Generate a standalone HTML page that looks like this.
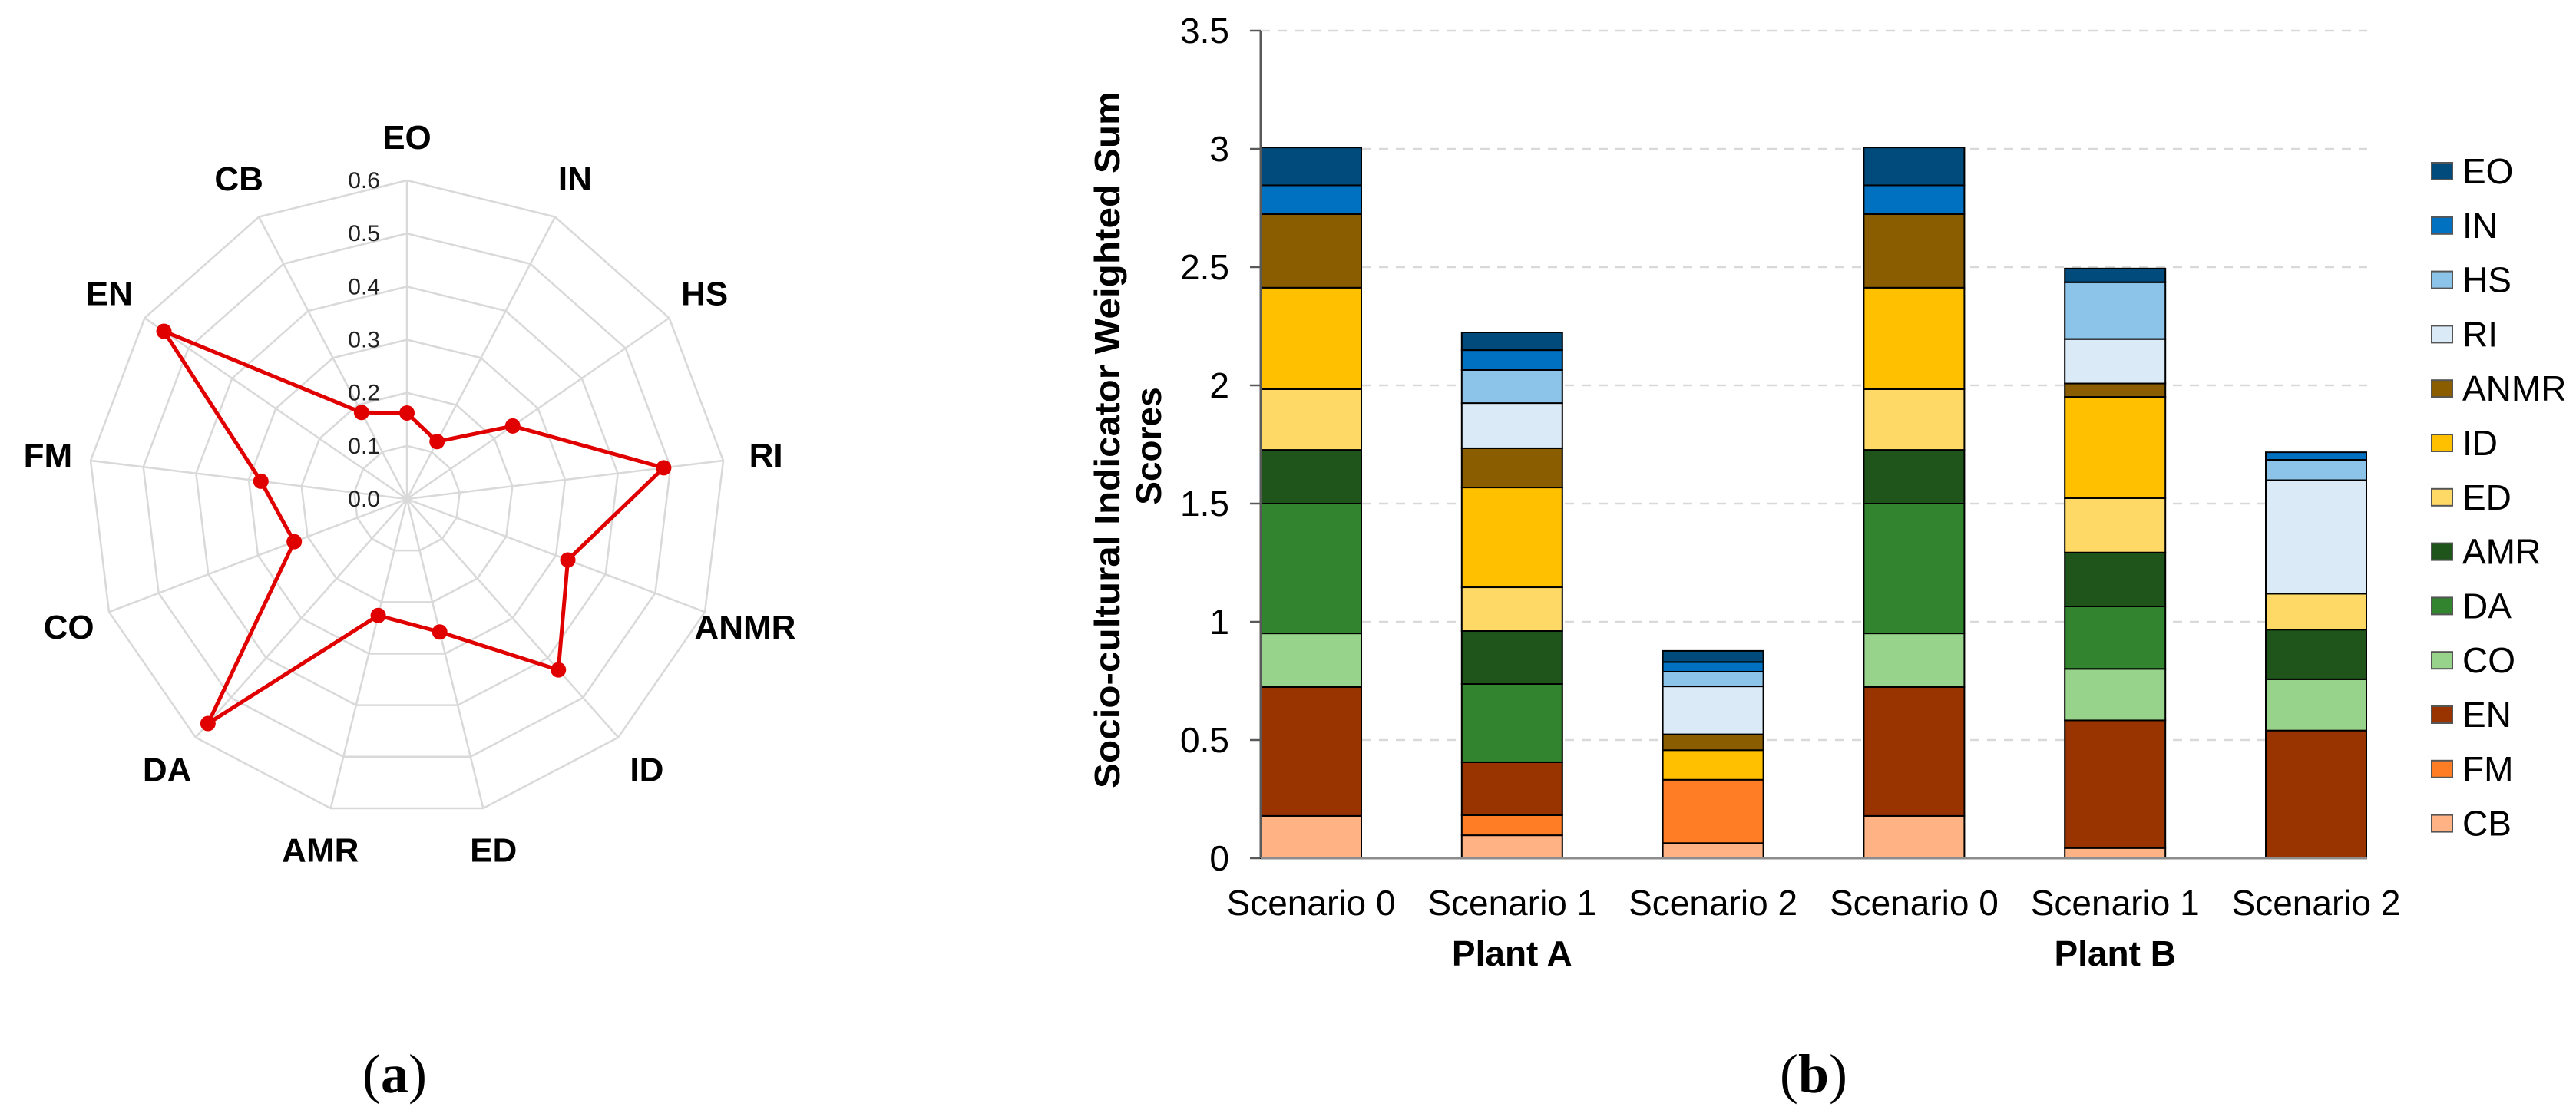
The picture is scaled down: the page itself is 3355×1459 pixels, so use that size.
<!DOCTYPE html>
<html><head><meta charset="utf-8"><style>
html,body{margin:0;padding:0;background:#fff;}
svg{display:block;font-family:"Liberation Sans",Arial,sans-serif;}
</style></head><body>
<svg id="fig" width="3355" height="1459" viewBox="0 0 3355 1459" xmlns="http://www.w3.org/2000/svg">
<rect width="3355" height="1459" fill="#fff"/>
<g id="radar"></g>
<text x="514" y="1423" font-family="'Liberation Serif',serif" font-size="72" text-anchor="middle">(<tspan font-weight="bold">a</tspan>)</text>
<g id="bars"></g>
<text x="2362" y="1423" font-family="'Liberation Serif',serif" font-size="72" text-anchor="middle">(<tspan font-weight="bold">b</tspan>)</text>
</svg>
<script>
// ---------- Radar data ----------
const radarAxes = ["EO","IN","HS","RI","ANMR","ID","ED","AMR","DA","CO","FM","EN","CB"];
const radarValues = [0.162,0.122,0.242,0.487,0.324,0.43,0.258,0.226,0.565,0.227,0.277,0.556,0.184];
const radarTicks = ["0.0","0.1","0.2","0.3","0.4","0.5","0.6"];

// ---------- Bar data ----------
const scenarios = ["Scenario 0","Scenario 1","Scenario 2","Scenario 0","Scenario 1","Scenario 2"];
const plants = ["Plant A","Plant B"];
const seriesNames = ["CB","FM","EN","CO","DA","AMR","ED","ID","ANMR","RI","HS","IN","EO"];
const CB   = [0.179,0.097,0.064,0.179,0.043,0];
const FM   = [0,0.085,0.268,0,0,0];
const EN   = [0.545,0.224,0,0.545,0.540,0.540];
const CO   = [0.227,0,0,0.227,0.218,0.217];
const DA   = [0.549,0.331,0,0.549,0.264,0];
const AMR  = [0.227,0.224,0,0.227,0.228,0.210];
const ED   = [0.257,0.185,0,0.257,0.230,0.152];
const ID   = [0.429,0.422,0.125,0.429,0.428,0];
const ANMR = [0.311,0.166,0.067,0.311,0.057,0];
const RI   = [0,0.191,0.203,0,0.188,0.480];
const HS   = [0,0.140,0.062,0,0.240,0.086];
const IN   = [0.122,0.084,0.041,0.122,0,0.032];
const EO   = [0.160,0.075,0.047,0.160,0.058,0];
const yTicks = [0,0.5,1,1.5,2,2.5,3,3.5];
const yTickLabels = ["0","0.5","1","1.5","2","2.5","3","3.5"];

const NS="http://www.w3.org/2000/svg";
function mk(tag,attrs,parent){const e=document.createElementNS(NS,tag);for(const k in attrs)e.setAttribute(k,attrs[k]);parent.appendChild(e);return e;}

// ---------- Radar ----------
(function(){
 const g=document.getElementById('radar');
 const cx=530,cy=650,R=415,maxV=0.6,n=radarAxes.length;
 const ang=i=>i*2*Math.PI/n;
 const pt=(i,v)=>[cx+Math.sin(ang(i))*v/maxV*R, cy-Math.cos(ang(i))*v/maxV*R];
 for(let k=1;k<radarTicks.length;k++){
   const v=parseFloat(radarTicks[k]);
   const pts=radarAxes.map((a,i)=>pt(i,v).join(',')).join(' ');
   const p=mk('polygon',{points:pts,fill:'none',stroke:'#d9d9d9','stroke-width':2.5},g);
   
   
 }
 radarAxes.forEach((a,i)=>{
   const e=pt(i,maxV);
   const l=mk('line',{x1:cx,y1:cy,x2:e[0],y2:e[1],stroke:'#d9d9d9','stroke-width':2.5},g);
   
   
   const lp=pt(i,maxV*1.135);
   const t=mk('text',{x:lp[0],y:lp[1]+15,'font-size':44,'font-weight':'bold','text-anchor':'middle',fill:'#000'},g);
   t.textContent=a;
   
   
 });
 radarTicks.forEach((s,k)=>{
   const v=parseFloat(s);
   const t=mk('text',{x:cx-35,y:cy-v/maxV*R+10,'font-size':30,'text-anchor':'end',fill:'#222'},g);
   t.textContent=s;
   
   
 });
 const pts=radarValues.map((v,i)=>pt(i,v).join(',')).join(' ');
 const poly=mk('polygon',{points:pts,fill:'none',stroke:'#e00000','stroke-width':5,'stroke-linejoin':'round'},g);
 
 
 radarValues.forEach((v,i)=>{
   const p=pt(i,v);
   const c=mk('circle',{cx:p[0],cy:p[1],r:10,fill:'#e00000'},g);
   
   
 });
})();

// ---------- Bars ----------
(function(){
 const g=document.getElementById('bars');
 const series={CB,FM,EN,CO,DA,AMR,ED,ID,ANMR,RI,HS,IN,EO};
 const colors={EO:'#004b7c',IN:'#0070c0',HS:'#8cc3e8',RI:'#dbeaf7',ANMR:'#8a5e00',ID:'#ffc000',ED:'#ffd966',AMR:'#1f541b',DA:'#32852e',CO:'#98d38c',EN:'#993300',FM:'#ff7d25',CB:'#ffb385'};
 const x0=1642,x1=3083,y0=1118,yMax=3.5,yTop=40;
 const Y=v=>y0-(v/yMax)*(y0-yTop);
 const step=261.8,bw=131;
 const X=i=>x0+i*step;
 yTicks.forEach((v,k)=>{
   if(v>0){const l=mk('line',{x1:x0,y1:Y(v),x2:x1,y2:Y(v),stroke:'#d9d9d9','stroke-width':2.5,'stroke-dasharray':'12 10'},g);
   
   }
   const tk=mk('line',{x1:x0-14,y1:Y(v),x2:x0,y2:Y(v),stroke:'#595959','stroke-width':2.5},g);
   
   
   const t=mk('text',{x:1601,y:Y(v)+16,'font-size':46,'text-anchor':'end',fill:'#000'},g);
   t.textContent=yTickLabels[k];
   
   
 });
 scenarios.forEach((s,i)=>{
   let acc=0;
   seriesNames.forEach(n=>{
     const v=series[n][i];
     if(v>0){
       const r=mk('rect',{x:X(i),y:Y(acc+v),width:bw,height:Y(acc)-Y(acc+v),fill:colors[n],stroke:'#000','stroke-width':2},g);
       
       
     }
     acc+=v;
   });
   const t=mk('text',{x:X(i)+bw/2,y:1192,'font-size':46,'text-anchor':'middle',fill:'#000'},g);
   t.textContent=s;
   
   
 });
 plants.forEach((p,j)=>{
   const cxp=(X(j*3)+X(j*3+2)+bw)/2;
   const t=mk('text',{x:cxp,y:1258,'font-size':46,'font-weight':'bold','text-anchor':'middle',fill:'#000'},g);
   t.textContent=p;
   
   
 });
 const ax=mk('line',{x1:x0,y1:yTop,x2:x0,y2:y0,stroke:'#595959','stroke-width':3},g);
 
 
 const bx=mk('line',{x1:x0,y1:y0,x2:x1,y2:y0,stroke:'#8c8c8c','stroke-width':3},g);
 
 
 const t1=mk('text',{x:0,y:0,'font-size':46,'font-weight':'bold','text-anchor':'middle',transform:'translate(1458,573) rotate(-90)',textLength:908,lengthAdjust:'spacingAndGlyphs'},g);
 t1.textContent='Socio-cultural Indicator Weighted Sum';
 
 
 const t2=mk('text',{x:0,y:0,'font-size':46,'font-weight':'bold','text-anchor':'middle',transform:'translate(1512,581) rotate(-90)'},g);
 t2.textContent='Scores';
 
 
 const legendOrder=seriesNames.slice().reverse();
 legendOrder.forEach((n,k)=>{
   const y=223+k*70.8;
   const r=mk('rect',{x:3167,y:y-11,width:27,height:22,fill:colors[n],stroke:'#555','stroke-width':2},g);
   
   
   const t=mk('text',{x:3207,y:y+16,'font-size':46,fill:'#000'},g);
   t.textContent=n;
   
   
 });
})();
</script>
</body></html>
